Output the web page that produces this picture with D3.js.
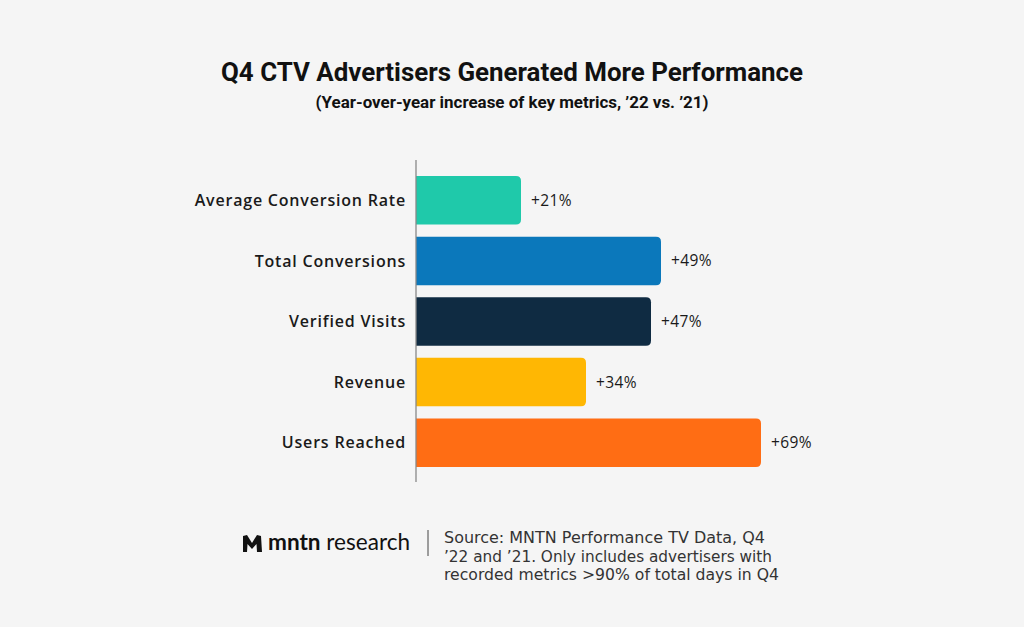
<!DOCTYPE html>
<html><head><meta charset="utf-8">
<script src="https://cdn.jsdelivr.net/npm/d3@7"></script>
<style>body{margin:0;background:#f5f5f5}svg{display:block}</style>
</head><body><svg id="c" width="1024" height="627"></svg>
<script>
const categories = ["Average Conversion Rate","Total Conversions","Verified Visits","Revenue","Users Reached"];
const values = [21,49,47,34,69];
const colors = ["#1fc9aa","#0b78bb","#0f2b42","#ffb703","#ff6d14"];
const title = "Q4 CTV Advertisers Generated More Performance";
const subtitle = "(Year-over-year increase of key metrics, \u201922 vs. \u201921)";
const sourceLines = ["Source: MNTN Performance TV Data, Q4","\u201922 and \u201921. Only includes advertisers with","recorded metrics >90% of total days in Q4"];
const sourceWidths = [321, 328, 335];

const svg = d3.select("#c");
svg.append("rect").attr("width",1024).attr("height",627).attr("fill","#f5f5f5");

svg.append("text").attr("x",512).attr("y",81).attr("text-anchor","middle")
  .attr("font-family","Roboto").attr("font-weight",700).attr("font-size",25.5).attr("fill","#111")
  .attr("textLength",582).attr("lengthAdjust","spacingAndGlyphs")
  .text(title);
svg.append("text").attr("x",512).attr("y",108).attr("text-anchor","middle")
  .attr("font-family","Roboto").attr("font-weight",700).attr("font-size",16).attr("fill","#111")
  .attr("textLength",393).attr("lengthAdjust","spacingAndGlyphs")
  .text(subtitle);

const x0 = 416;
const x = d3.scaleLinear().domain([0,72]).range([x0, x0+360]);
const y = d3.scaleBand().domain(categories).range([170,473]).paddingInner(0.2).paddingOuter(0.1);

const g = svg.append("g");
const r = 5;
g.selectAll("path.bar").data(categories).join("path").attr("class","bar")
  .attr("fill",(d,i)=>colors[i])
  .attr("d",(d,i)=>{
    const xa=x(0), xb=x(values[i]), ya=y(d), yb=y(d)+y.bandwidth();
    return `M${xa},${ya}H${xb-r}Q${xb},${ya} ${xb},${ya+r}V${yb-r}Q${xb},${yb} ${xb-r},${yb}H${xa}Z`;
  });

svg.append("line").attr("x1",x0).attr("x2",x0).attr("y1",160).attr("y2",482)
  .attr("stroke","#888").attr("stroke-width",1.3);

g.selectAll("text.cat").data(categories).join("text").attr("class","cat")
  .attr("x",406).attr("y",d=>y(d)+y.bandwidth()/2).attr("dy","0.35em").attr("text-anchor","end")
  .attr("font-family","Open Sans").attr("font-weight",600).attr("font-size",16).attr("letter-spacing",0.8).attr("fill","#1a1a1a")
  .text(d=>d);
g.selectAll("text.val").data(categories).join("text").attr("class","val")
  .attr("x",(d,i)=>x(values[i])+10).attr("y",d=>y(d)+y.bandwidth()/2).attr("dy","0.35em")
  .attr("font-family","Open Sans").attr("font-size",15.5).attr("letter-spacing",0.4).attr("fill","#1a1a1a")
  .text((d,i)=>"+"+values[i]+"%");

// footer logo
const lg = svg.append("g").attr("transform","translate(243,535)");
lg.append("path").attr("fill","#111")
  .attr("d","M0,1 L4,0 L9,8 L14,0 L18,1 L19,17 L14,17 L13.5,9 L9,14 L4.5,9 L4,17 L0,17 Z");
svg.append("text").attr("x",268).attr("y",550).attr("font-family","Lato").attr("font-size",22.5).attr("fill","#111")
  .attr("textLength",142).attr("lengthAdjust","spacingAndGlyphs")
  .html('<tspan font-weight="700">mntn</tspan> research');
svg.append("line").attr("x1",428).attr("x2",428).attr("y1",530).attr("y2",556).attr("stroke","#444").attr("stroke-width",1);
svg.append("g").selectAll("text").data(sourceLines).join("text")
  .attr("x",444).attr("y",(d,i)=>543+i*18.5)
  .attr("font-family","DejaVu Sans").attr("font-size",15.3).attr("fill","#333")
  .attr("textLength",(d,i)=>sourceWidths[i]).attr("lengthAdjust","spacingAndGlyphs")
  .text(d=>d);
</script></body></html>
